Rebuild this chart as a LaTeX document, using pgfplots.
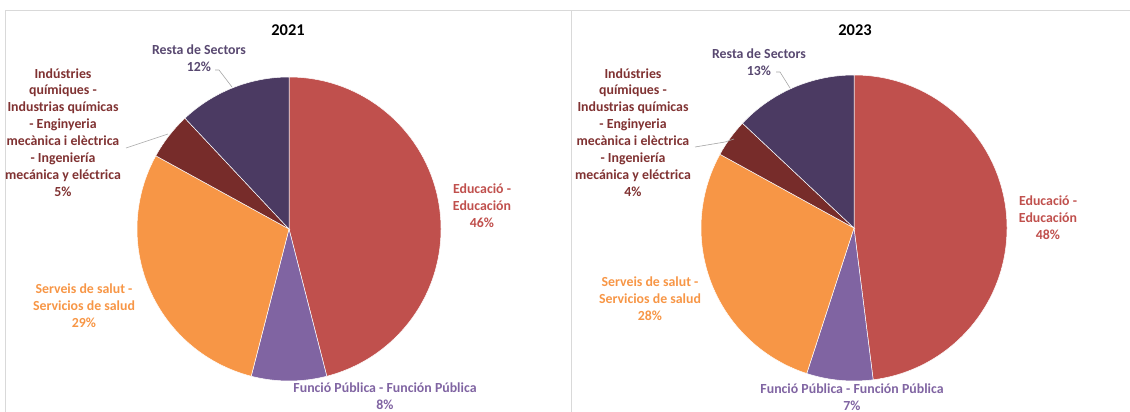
\documentclass[border=0pt]{standalone}
\usepackage{pgfplots}
\pgfplotsset{compat=1.18}
\usepackage{fontspec}
\setmainfont{Carlito}
\definecolor{cEdu}{RGB}{192,80,77}
\definecolor{cFun}{RGB}{128,100,162}
\definecolor{cSal}{RGB}{247,150,70}
\definecolor{cInd}{RGB}{119,44,42}
\definecolor{cRes}{RGB}{75,58,98}
\definecolor{tEdu}{RGB}{192,80,77}
\definecolor{tFun}{RGB}{128,100,162}
\definecolor{tSal}{RGB}{247,150,70}
\definecolor{tInd}{RGB}{128,50,50}
\definecolor{tRes}{RGB}{88,72,112}
\definecolor{cBorder}{RGB}{217,217,217}
\definecolor{cLeader}{RGB}{166,166,166}

% pie: centre x, centre y, radius (axis units = bp), list value/colour (clockwise from top)
\newcommand\pie[4]{%
  \xdef\cur{90}%
  \foreach \v/\col in {#4}{%
    \pgfmathsetmacro\e{\cur-3.6*\v}%
    \edef\temp{\noexpand\fill[\col,draw=white,line width=0.5pt] (axis cs:#1,#2) -- ++(\cur:#3bp) arc[start angle=\cur,end angle=\e,radius=#3bp] -- cycle;}%
    \temp
    \xdef\cur{\e}%
  }}

\tikzset{lab/.style={font=\bfseries\fontsize{13.9}{17}\selectfont,align=center,inner sep=0pt,anchor=center}}

\begin{document}
\begin{tikzpicture}
\begin{axis}[
  scale only axis, width=1130bp, height=412bp,
  xmin=0, xmax=1130, ymin=0, ymax=412,
  hide axis, clip=false]
% panel borders
\draw[cBorder,line width=0.8pt] (axis cs:5,0) -- (axis cs:5,402) -- (axis cs:1130,402);
\draw[cBorder,line width=0.8pt] (axis cs:571.5,0) -- (axis cs:571.5,402);

% 2021: Educacio, Funcio Publica, Serveis de salut, Industries, Resta
\pie{289}{183}{152}{46/cEdu, 8/cFun, 29/cSal, 5/cInd, 12/cRes}
% 2023
\pie{854}{184}{153}{48/cEdu, 7/cFun, 28/cSal, 4/cInd, 13/cRes}

% titles
\node[font=\bfseries\fontsize{16.5}{18}\selectfont] at (axis cs:288,382) {2021};
\node[font=\bfseries\fontsize{16.5}{18}\selectfont] at (axis cs:855,382) {2023};

% leader lines
\draw[cLeader,line width=0.6pt] (axis cs:215,342) -- (axis cs:219,342) -- (axis cs:232,325);
\draw[cLeader,line width=0.6pt] (axis cs:126,264) -- (axis cs:168,278);
\draw[cLeader,line width=0.6pt] (axis cs:776,340) -- (axis cs:780,340) -- (axis cs:790,324);
\draw[cLeader,line width=0.6pt] (axis cs:695,265) -- (axis cs:725,270) -- (axis cs:734,273);

% labels 2021
\node[lab,text=tRes] at (axis cs:199,353.5) {Resta de Sectors\\12\%};
\node[lab,text=tInd] at (axis cs:63,279.5) {Indústries\\químiques -\\Industrias químicas\\- Enginyeria\\mecànica i elèctrica\\- Ingeniería\\mecánica y eléctrica\\5\%};
\node[lab,text=tEdu] at (axis cs:482,206) {Educació -\\Educación\\46\%};
\node[lab,text=tSal] at (axis cs:84,106) {Serveis de salut -\\Servicios de salud\\29\%};
\node[lab,text=tFun] at (axis cs:385,15.5) {Funció Pública - Función Pública\\8\%};

% labels 2023
\node[lab,text=tRes] at (axis cs:759,349.5) {Resta de Sectors\\13\%};
\node[lab,text=tInd] at (axis cs:633,279.5) {Indústries\\químiques -\\Industrias químicas\\- Enginyeria\\mecànica i elèctrica\\- Ingeniería\\mecánica y eléctrica\\4\%};
\node[lab,text=tEdu] at (axis cs:1048,194) {Educació -\\Educación\\48\%};
\node[lab,text=tSal] at (axis cs:650,113) {Serveis de salut -\\Servicios de salud\\28\%};
\node[lab,text=tFun] at (axis cs:852,15) {Funció Pública - Función Pública\\7\%};
\end{axis}
\pgfresetboundingbox
\path (current axis.south west) rectangle (current axis.north east);
\end{tikzpicture}
\end{document}
